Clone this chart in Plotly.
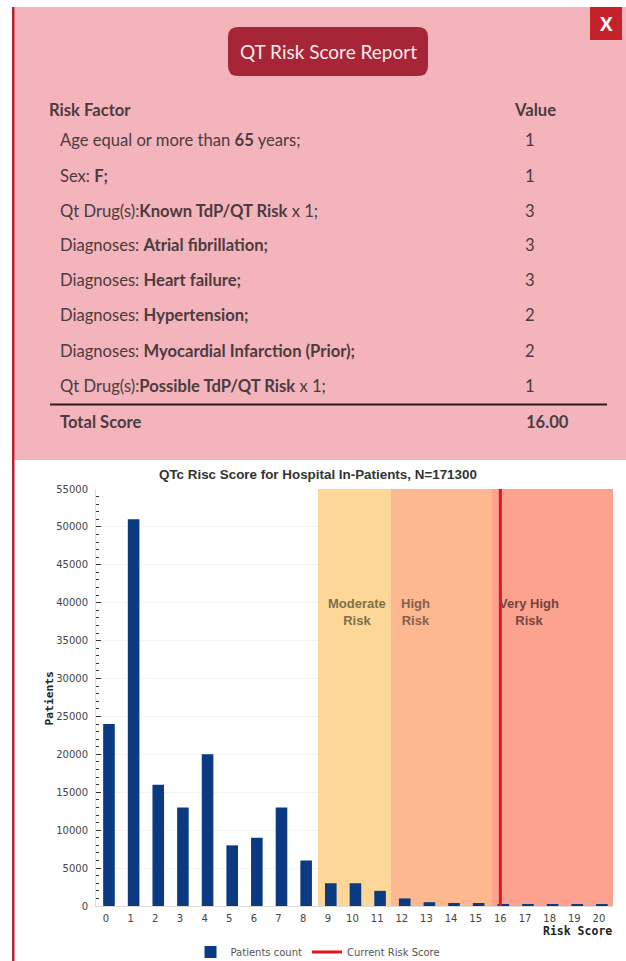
import plotly.graph_objects as go

# ---- data ----
scores = list(range(21))
patients = [24000, 51000, 16000, 13000, 20000, 8000, 9000, 13000, 6000, 3000, 3000,
            2000, 1000, 500, 400, 400, 200, 200, 200, 200, 200]
current_score = 16
y_ticks = list(range(0, 55001, 5000))
factor_plain = ["Age equal or more than ", "Sex: ", "Qt Drug(s):", "Diagnoses: ", "Diagnoses: ",
                "Diagnoses: ", "Diagnoses: ", "Qt Drug(s):"]
factor_bold = ["65", "F;", "Known TdP/QT Risk", "Atrial fibrillation;", "Heart failure;",
               "Hypertension;", "Myocardial Infarction (Prior);", "Possible TdP/QT Risk"]
factor_tail = [" years;", "", " x 1;", "", "", "", "", " x 1;"]
factor_values = [1, 1, 3, 3, 3, 2, 2, 1]
total_score = "16.00"
band_edges = [8.6, 11.56, 15.63, 20.57]
band_colors = ["#fdd798", "#fdb88f", "#fda28f"]
band_labels = ["Moderate<br>Risk", "High<br>Risk", "Very High<br>Risk"]
row_px = [140, 176, 211, 245, 280, 315, 351, 386]

W, H = 626, 961
L, R, T, B = 96, 613, 489, 906
px = lambda v: (v - L) / (R - L)
py = lambda v: (B - v) / (B - T)

TXT = "#4b3c40"
LATO = "Lato, 'Noto Sans', sans-serif"
fig = go.Figure()
fig.add_trace(go.Bar(x=scores, y=patients, name="Patients count", width=0.47, offset=-0.115,
                     marker=dict(color="#0b3a82", line=dict(width=0))))
fig.add_trace(go.Scatter(x=[current_score, current_score], y=[0, 55000], mode="lines",
                         name="Current Risk Score", line=dict(color="#e8141c", width=3)))

shapes = [
    dict(type="rect", xref="paper", yref="paper", x0=px(13), x1=px(W), y0=py(460), y1=py(7),
         fillcolor="#f4b4bb", line_width=0, layer="below"),
    dict(type="rect", xref="paper", yref="paper", x0=px(12), x1=px(14.5), y0=py(H), y1=py(7),
         fillcolor="#b5232f", line_width=0, layer="below"),
    dict(type="rect", xref="paper", yref="paper", x0=px(590), x1=px(622), y0=py(40), y1=py(7),
         fillcolor="#c4212b", line_width=0, layer="below"),
    dict(type="path", xref="paper", yref="paper", layer="below", fillcolor="#a62536", line_width=0,
         path=f"M {px(238)} {py(27)} L {px(418)} {py(27)} Q {px(428)} {py(27)} {px(428)} {py(37)} "
              f"L {px(428)} {py(66)} Q {px(428)} {py(76)} {px(418)} {py(76)} L {px(238)} {py(76)} "
              f"Q {px(228)} {py(76)} {px(228)} {py(66)} L {px(228)} {py(37)} "
              f"Q {px(228)} {py(27)} {px(238)} {py(27)} Z"),
    dict(type="line", xref="paper", yref="paper", x0=px(50), x1=px(607), y0=py(404.5), y1=py(404.5),
         line=dict(color="#33181c", width=2), layer="below"),
]
for i, color in enumerate(band_colors):
    shapes.append(dict(type="rect", xref="x", yref="y", x0=band_edges[i], x1=band_edges[i + 1],
                       y0=0, y1=55000, fillcolor=color, line_width=0, layer="between"))


def note(x, y, text, size=16.6, color=TXT, family=LATO, anchor="left"):
    return dict(xref="paper", yref="paper", x=px(x), y=py(y), text=text, showarrow=False, xanchor=anchor,
                yanchor="middle", align="center" if anchor == "center" else "left",
                font=dict(size=size, color=color, family=family))


ann = [
    note(328, 52, "QT Risk Score Report", 19, "#fbe9ea", anchor="center"),
    note(606, 24, "<b>X</b>", 19, "#ffffff", "'Open Sans', sans-serif", "center"),
    note(47, 110, "<b>Risk Factor</b>"),
    note(535, 110, "<b>Value</b>", anchor="center"),
    note(58, 422, "<b>Total Score</b>"),
    note(547, 422, "<b>" + total_score + "</b>", anchor="center"),
    note(318, 474, "<b>QTc Risc Score for Hospital In-Patients, N=171300</b>", 13.4, "#333333",
         "'Liberation Sans', sans-serif", "center"),
    note(614, 931, "<b>Risk Score</b>", 11.5, "#222222", "'DejaVu Sans Mono', monospace", "right"),
    note(357, 612, "<b>" + band_labels[0] + "</b>", 13, "#80704a", "'Liberation Sans', sans-serif", "center"),
    note(415, 612, "<b>" + band_labels[1] + "</b>", 13, "#85604f", "'Liberation Sans', sans-serif", "center"),
    note(529, 612, "<b>" + band_labels[2] + "</b>", 13, "#75443f", "'Liberation Sans', sans-serif", "center"),
]
ann.append(dict(xref="paper", yref="paper", x=px(40), y=py(699), text="<b>Patients</b>", showarrow=False,
                textangle=-90, font=dict(size=11.3, color="#222222", family="'DejaVu Sans Mono', monospace")))
for y, a, b, c, v in zip(row_px, factor_plain, factor_bold, factor_tail, factor_values):
    ann.append(note(58, y, f"{a}<b>{b}</b>{c}"))
    ann.append(note(530, y, str(v), anchor="center"))

fig.update_layout(
    width=W, height=H, margin=dict(l=L, r=W - R, t=T, b=H - B, autoexpand=False),
    paper_bgcolor="white", plot_bgcolor="white", shapes=shapes, annotations=ann,
    font=dict(family="'DejaVu Sans', sans-serif", size=10, color="#444444"),
    showlegend=True,
    legend=dict(orientation="h", x=px(318), y=py(952), xanchor="center", yanchor="middle",
                font=dict(size=10, color="#555555"), itemwidth=30, bgcolor="rgba(0,0,0,0)"),
    xaxis=dict(range=[-0.406, 20.57], tickmode="array", tickvals=scores, ticktext=[str(s) for s in scores],
               showgrid=False, zeroline=False, ticks="", ticklabelstandoff=3,
               showline=True, linecolor="#dcdcdc", linewidth=1),
    yaxis=dict(range=[0, 55000], tickmode="array", tickvals=y_ticks, ticktext=[str(v) for v in y_ticks],
               ticks="inside", ticklen=5, tickcolor="#333333", ticklabelstandoff=5,
               minor=dict(dtick=1000, ticks="inside", ticklen=3, tickcolor="#333333", showgrid=False),
               showgrid=True, gridcolor="#f4f4f4", zeroline=False, showline=True, linecolor="#dcdcdc", linewidth=1),
)
fig.write_html("out.html", config={"displayModeBar": False},
               post_script="document.body.style.margin='0';document.body.style.overflow='hidden';")
